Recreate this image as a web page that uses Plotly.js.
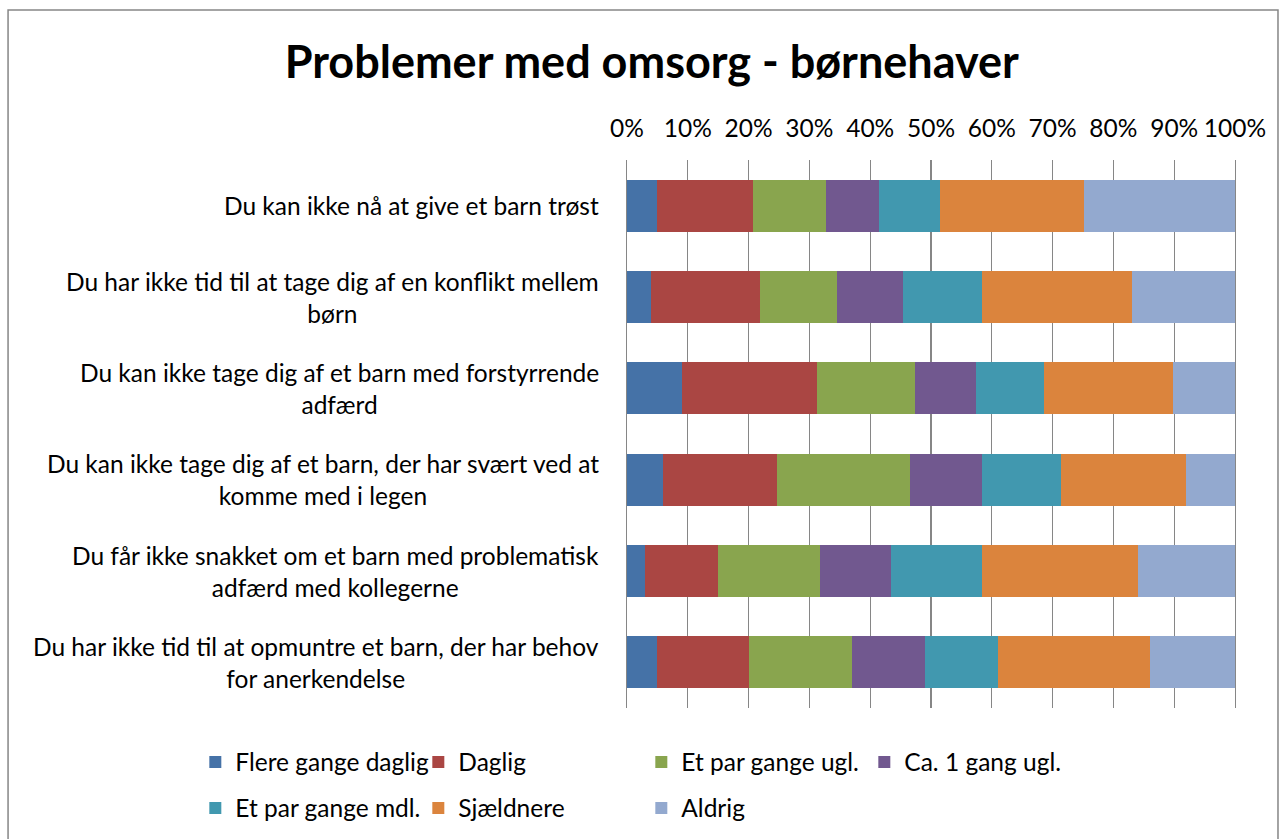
<!DOCTYPE html>
<html>
<head>
<meta charset="utf-8">
<script src="https://cdn.plot.ly/plotly-3.0.1.min.js"></script>
<style>html,body{margin:0;padding:0;background:#fff;}#chart{width:1283px;height:839px;}</style>
</head>
<body>
<div id="chart"></div>
<script>
const categories = [
  "Du kan ikke nå at give et barn trøst",
  "Du har ikke tid til at tage dig af en konflikt mellem<br>børn",
  "Du kan ikke tage dig af et barn med forstyrrende<br>adfærd",
  "Du kan ikke tage dig af et barn, der har svært ved at<br>komme med i legen",
  "Du får ikke snakket om et barn med problematisk<br>adfærd med kollegerne",
  "Du har ikke tid til at opmuntre et barn, der har behov<br>for anerkendelse"
];
const seriesNames = ["Flere gange daglig", "Daglig", "Et par gange ugl.", "Ca. 1 gang ugl.", "Et par gange mdl.", "Sjældnere", "Aldrig"];
const flereGangeDaglig = [4.9, 4.0, 9.1, 6.0, 3.0, 5.0];
const daglig           = [15.8, 17.8, 22.1, 18.7, 11.9, 15.0];
const etParGangeUgl    = [12.0, 12.8, 16.2, 21.9, 16.8, 17.0];
const ca1GangUgl       = [8.8, 10.8, 10.0, 11.8, 11.8, 12.0];
const etParGangeMdl    = [10.0, 13.0, 11.2, 12.9, 14.9, 12.0];
const sjaeldnere       = [23.6, 24.7, 21.2, 20.7, 25.7, 25.0];
const aldrig           = [24.9, 16.9, 10.2, 8.0, 15.9, 14.0];
const seriesValues = [flereGangeDaglig, daglig, etParGangeUgl, ca1GangUgl, etParGangeMdl, sjaeldnere, aldrig];
const colors = ["#4572A7", "#AA4643", "#89A54E", "#71588F", "#4198AF", "#DB843D", "#93A9CF"];
const tickVals = [0,10,20,30,40,50,60,70,80,90,100];
const tickText = ["0%","10%","20%","30%","40%","50%","60%","70%","80%","90%","100%"];

const FONT = "Lato, 'Open Sans', sans-serif";

const traces = seriesNames.map((name, i) => ({
  type: "bar",
  orientation: "h",
  name: name,
  y: categories,
  x: seriesValues[i],
  marker: {color: colors[i], line: {width: 0}},
  legend: i < 4 ? "legend" : "legend2",
  hoverinfo: "x+name"
}));

const annotations = categories.map(c => ({
  xref: "paper", yref: "y",
  x: -0.043, y: c,
  xanchor: "right", yanchor: "middle",
  align: "center",
  text: c,
  showarrow: false,
  font: {family: FONT, size: 24.5, color: "#000"}
}));

const legendCommon = {
  orientation: "h",
  xref: "paper", yref: "paper",
  xanchor: "left", yanchor: "middle",
  entrywidth: 178, entrywidthmode: "pixels",
  font: {family: FONT, size: 24.5, color: "#000"},
  bgcolor: "rgba(0,0,0,0)",
  traceorder: "normal"
};

const layout = {
  width: 1283, height: 839,
  margin: {l: 627, r: 48, t: 160, b: 131, autoexpand: false},
  paper_bgcolor: "#fff",
  plot_bgcolor: "#fff",
  barmode: "stack",
  bargap: 0.43,
  title: {
    text: "<b>Problemer med omsorg - børnehaver</b>",
    x: 0.508, xref: "container", xanchor: "center",
    y: 0.926, yref: "container", yanchor: "middle",
    font: {family: FONT, size: 45, color: "#000"}
  },
  xaxis: {
    side: "top",
    range: [0, 100],
    tickvals: tickVals,
    ticktext: tickText,
    showgrid: true,
    gridcolor: "#868686",
    gridwidth: 1.3,
    zeroline: false,
    showline: false,
    ticks: "",
    ticklabelstandoff: 17,
    tickfont: {family: FONT, size: 24.5, color: "#000"},
    fixedrange: true
  },
  yaxis: {
    autorange: "reversed",
    showticklabels: false,
    showgrid: false,
    zeroline: false,
    showline: true,
    mirror: true,
    linecolor: "#868686",
    linewidth: 1.3,
    ticks: "",
    fixedrange: true
  },
  legend: Object.assign({}, legendCommon, {x: -0.71, y: -0.0985}),
  legend2: Object.assign({}, legendCommon, {x: -0.71, y: -0.1825}),
  annotations: annotations,
  shapes: [{
    type: "rect", xref: "paper", yref: "paper",
    x0: -1.018, x1: 1.0707, y0: -0.3, y1: 1.2737,
    line: {color: "#868686", width: 1.5}, fillcolor: "rgba(0,0,0,0)", layer: "below"
  }]
};

Plotly.newPlot("chart", traces, layout, {displayModeBar: false, staticPlot: true});
</script>
</body>
</html>
